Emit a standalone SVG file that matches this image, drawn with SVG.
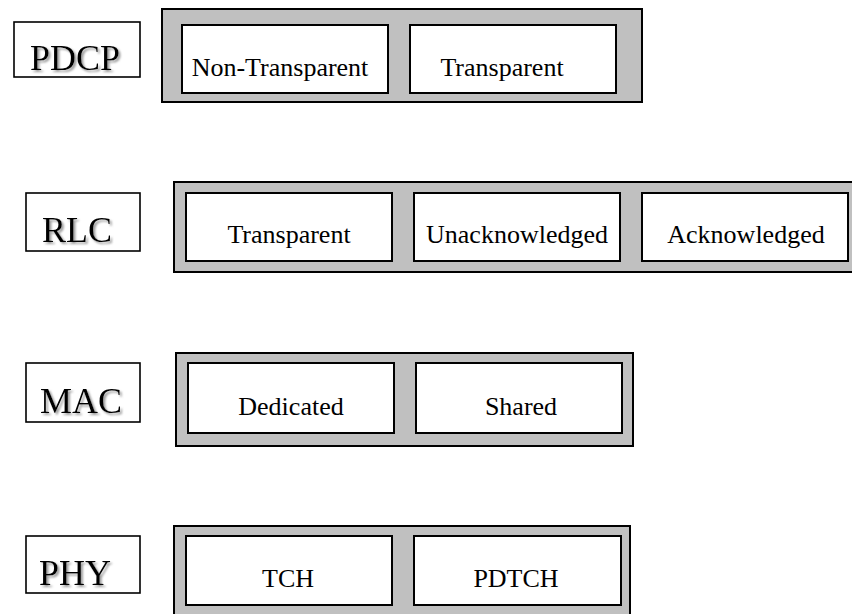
<svg xmlns="http://www.w3.org/2000/svg" width="852" height="614" viewBox="0 0 852 614">
<defs>
<filter id="sh" x="-10%" y="-10%" width="130%" height="140%">
<feDropShadow dx="2" dy="2" stdDeviation="1" flood-color="#909090" flood-opacity="0.9"/>
</filter>
</defs>
<style>
.bg{fill:#ffffff}
.lbl{fill:#ffffff;stroke:#000;stroke-width:1.6}
.outer{fill:#c0c0c0;stroke:#000;stroke-width:2}
.inner{fill:#ffffff;stroke:#000;stroke-width:2}
.big{font-family:"Liberation Serif","Times New Roman",serif;font-size:36px;fill:#000;text-anchor:middle;filter:url(#sh)}
.t{font-family:"Liberation Serif","Times New Roman",serif;font-size:26px;fill:#000;text-anchor:middle}
</style>
<rect class="bg" x="0" y="0" width="852" height="614"/>
<g id="pdcp-label"><rect class="lbl" x="14" y="22" width="126" height="55"/><text class="big" x="75" y="70">PDCP</text></g>
<g id="pdcp">
<rect class="outer" x="162" y="9" width="480" height="93"/>
<g id="pdcp-nontransparent"><rect class="inner" x="182" y="25" width="206" height="68"/><text class="t" x="280" y="76">Non-Transparent</text></g>
<g id="pdcp-transparent"><rect class="inner" x="410" y="25" width="206" height="68"/><text class="t" x="502" y="76">Transparent</text></g>
</g>
<g id="rlc-label"><rect class="lbl" x="26" y="193" width="114" height="58"/><text class="big" x="77" y="242">RLC</text></g>
<g id="rlc">
<rect class="outer" x="174" y="182" width="690" height="90"/>
<g id="rlc-transparent"><rect class="inner" x="186" y="193" width="206" height="68"/><text class="t" x="289" y="243">Transparent</text></g>
<g id="rlc-unack"><rect class="inner" x="414" y="193" width="206" height="68"/><text class="t" x="517" y="243">Unacknowledged</text></g>
<g id="rlc-ack"><rect class="inner" x="642" y="193" width="206" height="68"/><text class="t" x="746" y="243">Acknowledged</text></g>
</g>
<g id="mac-label"><rect class="lbl" x="26" y="363" width="114" height="59"/><text class="big" x="81" y="413">MAC</text></g>
<g id="mac">
<rect class="outer" x="176" y="353" width="457" height="93"/>
<g id="mac-dedicated"><rect class="inner" x="188" y="363" width="206" height="70"/><text class="t" x="291" y="415">Dedicated</text></g>
<g id="mac-shared"><rect class="inner" x="416" y="363" width="206" height="70"/><text class="t" x="521" y="415">Shared</text></g>
</g>
<g id="phy-label"><rect class="lbl" x="26" y="536" width="114" height="57"/><text class="big" x="75" y="585">PHY</text></g>
<g id="phy">
<rect class="outer" x="174" y="526" width="456" height="100"/>
<g id="phy-tch"><rect class="inner" x="186" y="536" width="206" height="69"/><text class="t" x="288" y="587">TCH</text></g>
<g id="phy-pdtch"><rect class="inner" x="414" y="536" width="207" height="69"/><text class="t" x="516" y="587">PDTCH</text></g>
</g>
<g id="connectors"/>
</svg>
